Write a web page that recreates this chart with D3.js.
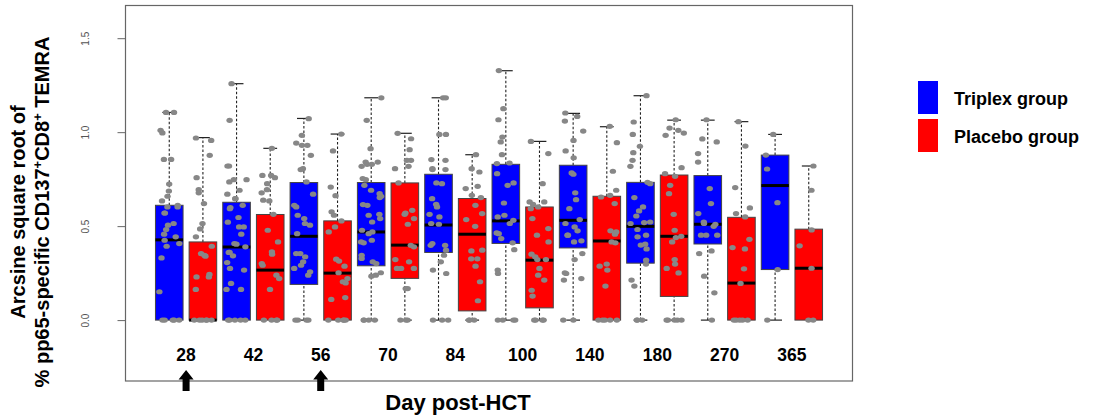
<!DOCTYPE html>
<html>
<head>
<meta charset="utf-8">
<script src="https://cdn.jsdelivr.net/npm/d3@7"></script>
<style>
  html, body { margin: 0; padding: 0; background: #fff; }
  svg { display: block; font-family: "Liberation Sans", Arial, sans-serif; }
</style>
</head>
<body>
<svg id="chart" width="1100" height="419"></svg>
<script>
// Days after transplant at which samples were taken
const days = ["28", "42", "56", "70", "84", "100", "140", "180", "270", "365"];
const groups = ["Triplex group", "Placebo group"];
const groupColors = ["#0000ff", "#ff0000"];
// Days on which vaccine was given
const vaccineDays = ["28", "56"];
const yTicks = [0, 0.5, 1.0, 1.5];

// Box summaries (arcsine sqrt of % TEMRA), one value per day
const triplexMin = [0, 0, 0, 0, 0, 0, 0, 0, 0, 0];
const triplexQ1  = [0, 0, 0.190, 0.289, 0.360, 0.408, 0.384, 0.303, 0.405, 0.269];
const triplexMed = [0.427, 0.389, 0.446, 0.469, 0.506, 0.528, 0.531, 0.499, 0.510, 0.716];
const triplexQ3  = [0.611, 0.627, 0.732, 0.732, 0.776, 0.829, 0.824, 0.733, 0.769, 0.878];
const triplexMax = [1.105, 1.258, 1.073, 1.183, 1.183, 1.327, 1.100, 1.194, 1.064, 0.988];

const placeboMin = [0, 0, 0, 0, 0, 0, 0, 0, 0, 0];
const placeboQ1  = [0, 0, 0, 0.222, 0.049, 0.065, 0, 0.126, 0, 0];
const placeboMed = [0, 0.266, 0.250, 0.399, 0.457, 0.319, 0.421, 0.446, 0.197, 0.276];
const placeboQ3  = [0.416, 0.562, 0.528, 0.730, 0.647, 0.602, 0.659, 0.772, 0.547, 0.484];
const placeboMax = [0.971, 0.914, 0.990, 0.994, 0.880, 0.951, 1.029, 1.064, 1.056, 0.820];

// Individual patient values per day
const triplexPoints = [
  [1.105,1.105,1.01,0.996,0.855,0.855,0.724,0.687,0.659,0.634,0.611,0.602,0.602,0.570,0.570,0.514,0.505,0.482,0.457,0.443,0.425,0.407,0.393,0.331,0.151,0,0,0,0,0],
  [1.258,1.063,0.820,0.820,0.747,0.747,0.735,0.691,0.670,0.646,0.646,0.611,0.599,0.593,0.546,0.521,0.496,0.496,0.457,0.407,0.404,0.390,0.360,0.360,0.342,0.306,0.275,0.266,0.195,0.163,0.163,0,0,0,0,0],
  [1.072,0.983,0.942,0.930,0.930,0.877,0.806,0.801,0.735,0.670,0.611,0.602,0.558,0.540,0.514,0.505,0.460,0.354,0.354,0.337,0.310,0.292,0.275,0.257,0.239,0,0,0,0],
  [1.183,1.063,0.912,0.841,0.841,0.829,0.829,0.818,0.753,0.747,0.717,0.691,0.673,0.659,0.652,0.615,0.611,0.563,0.558,0.540,0.522,0.478,0.469,0.460,0.425,0.416,0.411,0.345,0.328,0.310,0.301,0.252,0.239,0.234,0,0,0,0],
  [1.183,1.183,0.988,0.988,0.854,0.850,0.806,0.801,0.801,0.730,0.726,0.646,0.616,0.602,0.563,0.549,0.514,0.510,0.407,0.398,0.398,0.372,0.345,0.310,0.266,0.248,0,0,0],
  [1.328,1.125,1.066,0.974,0.948,0.880,0.836,0.833,0.779,0.730,0.717,0.623,0.558,0.549,0.531,0.514,0.464,0.460,0.434,0.411,0.375,0.266,0.248,0,0,0,0],
  [1.102,1.084,1.059,1.006,0.956,0.900,0.864,0.783,0.776,0.677,0.641,0.593,0.535,0.514,0.496,0.475,0.452,0.452,0.422,0.416,0.354,0.322,0.252,0.248,0.221,0.213,0,0],
  [1.194,1.054,0.988,0.925,0.891,0.850,0.818,0.733,0.726,0.652,0.602,0.581,0.554,0.522,0.519,0.514,0.482,0.452,0.443,0.404,0.399,0.379,0.319,0.298,0.213,0.181,0,0,0],
  [1.066,0.964,0.948,0.886,0.841,0.700,0.620,0.567,0.522,0.514,0.510,0.499,0.452,0.452,0.452,0.368,0.354,0.234,0.145,0],
  [0.988,0.878,0.804,0.625,0.269,0]
];
const placeboPoints = [
  [0.969,0.956,0.877,0.758,0.694,0.677,0.620,0.514,0.485,0.443,0.393,0.354,0.345,0.340,0.243,0.230,0.230,0.163,0,0,0,0,0,0],
  [0.914,0.770,0.770,0.758,0.726,0.694,0.677,0.638,0.634,0.563,0.478,0.416,0.363,0.351,0.301,0.292,0.239,0.221,0.163,0,0,0,0],
  [0.990,0.900,0.708,0.662,0.576,0.558,0.528,0.496,0.469,0.324,0.314,0.287,0.252,0.221,0.204,0.198,0.120,0.110,0,0,0,0,0],
  [0.994,0.965,0.907,0.850,0.850,0.818,0.806,0.730,0.584,0.570,0.563,0.540,0.510,0.398,0.390,0.322,0.310,0.275,0.275,0.275,0.168,0.168,0,0,0],
  [0.880,0.806,0.788,0.712,0.700,0.664,0.652,0.611,0.567,0.535,0.499,0.372,0.368,0.326,0.326,0.287,0.204,0.103,0,0,0],
  [0.951,0.886,0.726,0.629,0.629,0.616,0.602,0.593,0.540,0.487,0.452,0.416,0.351,0.337,0.322,0.322,0.275,0.239,0.213,0.159,0.128,0,0,0,0],
  [1.031,0.944,0.792,0.691,0.664,0.655,0.620,0.475,0.469,0.457,0.416,0.411,0.298,0.287,0.266,0.181,0,0,0,0,0],
  [1.066,1.022,1.010,0.995,0.983,0.811,0.779,0.765,0.717,0.673,0.563,0.478,0.446,0.439,0.416,0.322,0.298,0.275,0.251,0,0,0,0,0],
  [1.056,0.926,0.705,0.597,0.567,0.549,0.430,0.386,0.379,0.273,0.195,0,0,0,0,0],
  [0.820,0.691,0.480,0.395,0.276,0,0]
];

// ---- layout ----
const svg = d3.select("#chart");
const frame = { left: 125.5, right: 852.5, top: 5.5, bottom: 381 };

// Boxes sit at positions 1..20 (triplex, placebo alternating per day)
const nSlots = days.length * groups.length;
const x = d3.scaleLinear()
  .domain([0.5 - 0.04 * nSlots, nSlots + 0.5 + 0.04 * nSlots])
  .range([frame.left, frame.right]);
const yLim = [-0.25, 1.6];
const yPad = 0.04 * (yLim[1] - yLim[0]);
const y = d3.scaleLinear()
  .domain([yLim[0] - yPad, yLim[1] + yPad])
  .range([frame.bottom, frame.top]);

const boxW = 0.82;
const halfPx = (x(1 + boxW / 2) - x(1 - boxW / 2)) / 2;

// assemble per-box records
const boxes = [];
days.forEach((day, i) => {
  boxes.push({ day, g: 0, pos: 2 * i + 1, min: triplexMin[i], q1: triplexQ1[i], med: triplexMed[i], q3: triplexQ3[i], max: triplexMax[i], pts: triplexPoints[i] });
  boxes.push({ day, g: 1, pos: 2 * i + 2, min: placeboMin[i], q1: placeboQ1[i], med: placeboMed[i], q3: placeboQ3[i], max: placeboMax[i], pts: placeboPoints[i] });
});

// plot frame
svg.append("rect")
  .attr("x", frame.left).attr("y", frame.top)
  .attr("width", frame.right - frame.left).attr("height", frame.bottom - frame.top)
  .attr("fill", "none").attr("stroke", "#666").attr("stroke-width", 1.2);

// y axis
const yAxis = svg.append("g")
  .attr("transform", `translate(${frame.left},0)`)
  .call(d3.axisLeft(y).tickValues(yTicks).tickSize(8).tickFormat(d3.format(".1f")));
yAxis.select(".domain").remove();
yAxis.selectAll(".tick line").attr("stroke", "#666");
yAxis.selectAll(".tick text")
  .attr("fill", "#555")
  .attr("font-size", 10)
  .attr("font-family", "'Liberation Sans Narrow', 'Liberation Sans', Arial, sans-serif")
  .attr("x", null).attr("dy", null)
  .attr("text-anchor", "middle")
  .attr("transform", "translate(-37,0) rotate(-90)");

// y axis title (two lines, rotated)
const yTitle = svg.append("g").attr("transform", "translate(0,212) rotate(-90)");
yTitle.append("text")
  .attr("x", 0).attr("y", 25)
  .attr("text-anchor", "middle")
  .attr("font-size", 20).attr("font-weight", "bold")
  .text("Arcsine square root of");
const t2 = yTitle.append("text")
  .attr("x", 0).attr("y", 48.5)
  .attr("text-anchor", "middle")
  .attr("font-size", 20).attr("font-weight", "bold");
t2.append("tspan").text("% pp65-specific CD137");
t2.append("tspan").attr("dy", -7).attr("font-size", 13).text("+");
t2.append("tspan").attr("dy", 7).text("CD8");
t2.append("tspan").attr("dy", -7).attr("font-size", 13).text("+");
t2.append("tspan").attr("dy", 7).text(" TEMRA");

// whiskers (dotted) and caps
const gW = svg.append("g");
boxes.forEach(b => {
  const cx = x(b.pos);
  if (b.max > b.q3) {
    gW.append("line").attr("x1", cx).attr("x2", cx).attr("y1", y(b.q3)).attr("y2", y(b.max))
      .attr("stroke", "#222").attr("stroke-width", 1.1).attr("stroke-dasharray", "2.5,2");
  }
  gW.append("line").attr("x1", cx - halfPx / 2).attr("x2", cx + halfPx / 2).attr("y1", y(b.max)).attr("y2", y(b.max))
    .attr("stroke", "#222").attr("stroke-width", 1.2);
  if (b.q1 > b.min) {
    gW.append("line").attr("x1", cx).attr("x2", cx).attr("y1", y(b.min)).attr("y2", y(b.q1))
      .attr("stroke", "#222").attr("stroke-width", 1.1).attr("stroke-dasharray", "2.5,2");
    gW.append("line").attr("x1", cx - halfPx / 2).attr("x2", cx + halfPx / 2).attr("y1", y(b.min)).attr("y2", y(b.min))
      .attr("stroke", "#222").attr("stroke-width", 1.2);
  }
});

// boxes
svg.append("g").selectAll("rect").data(boxes).join("rect")
  .attr("x", d => x(d.pos - boxW / 2))
  .attr("width", d => x(d.pos + boxW / 2) - x(d.pos - boxW / 2))
  .attr("y", d => y(d.q3))
  .attr("height", d => y(d.q1) - y(d.q3))
  .attr("fill", d => groupColors[d.g])
  .attr("stroke", "#444").attr("stroke-width", 1);

// medians
svg.append("g").selectAll("line").data(boxes).join("line")
  .attr("x1", d => x(d.pos - boxW / 2)).attr("x2", d => x(d.pos + boxW / 2))
  .attr("y1", d => y(d.med)).attr("y2", d => y(d.med))
  .attr("stroke", "#000").attr("stroke-width", 3);

// jittered points (deterministic jitter so the layout is stable)
function mulberry32(a) {
  return function () {
    a |= 0; a = a + 0x6D2B79F5 | 0;
    let t = Math.imul(a ^ a >>> 15, 1 | a);
    t = t + Math.imul(t ^ t >>> 7, 61 | t) ^ t;
    return ((t ^ t >>> 14) >>> 0) / 4294967296;
  };
}
const rand = mulberry32(137);
const pts = [];
boxes.forEach(b => b.pts.forEach(v => pts.push({ pos: b.pos + (rand() - 0.5) * 0.6, v })));
svg.append("g").selectAll("ellipse").data(pts).join("ellipse")
  .attr("cx", d => x(d.pos)).attr("cy", d => y(d.v))
  .attr("rx", 3.2).attr("ry", 2.6)
  .attr("fill", "#878787");

// day labels under each pair of boxes
svg.append("g").selectAll("text").data(days).join("text")
  .attr("x", (d, i) => x(2 * i + 1.5))
  .attr("y", 361)
  .attr("text-anchor", "middle")
  .attr("font-size", 17.5).attr("font-weight", "bold")
  .text(d => d);

// vaccination arrows
const arrowPath = "M0,0 L7.5,9.5 L3.5,9.5 L3.5,21 L-3.5,21 L-3.5,9.5 L-7.5,9.5 Z";
svg.append("g").selectAll("path").data(vaccineDays).join("path")
  .attr("transform", d => `translate(${x(2 * days.indexOf(d) + 1.5)},370)`)
  .attr("d", arrowPath)
  .attr("fill", "#000");

// x axis title
svg.append("text")
  .attr("x", 458).attr("y", 410)
  .attr("text-anchor", "middle")
  .attr("font-size", 22).attr("font-weight", "bold")
  .text("Day post-HCT");

// legend
const legend = svg.append("g").attr("transform", "translate(918,81)");
groups.forEach((g, i) => {
  legend.append("rect")
    .attr("x", 0).attr("y", i * 38)
    .attr("width", 20).attr("height", 33)
    .attr("fill", groupColors[i]);
  legend.append("text")
    .attr("x", 36).attr("y", i * 38 + 24)
    .attr("font-size", 18).attr("font-weight", "bold")
    .text(g);
});
</script>
</body>
</html>
